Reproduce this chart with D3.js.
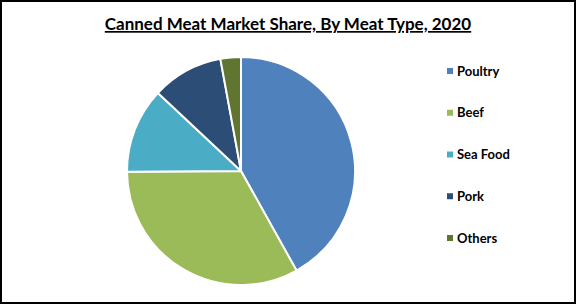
<!DOCTYPE html>
<html>
<head>
<meta charset="utf-8">
<script src="https://cdn.jsdelivr.net/npm/d3@7"></script>
<style>
  html, body { margin: 0; padding: 0; background: #fff; }
  svg { display: block; }
</style>
</head>
<body>
<svg id="chart"></svg>
<script>
// chart data
const categories = ['Poultry', 'Beef', 'Sea Food', 'Pork', 'Others'];
const shares = [41.9, 33.0, 12.1, 10.1, 2.9];
const colors = ['#4f81bd', '#9bbb59', '#4bacc6', '#2c4d75', '#5f7530'];
const title = 'Canned Meat Market Share, By Meat Type, 2020';

const width = 576;
const height = 304;
const font = 'Lato, "Open Sans", sans-serif';

const svg = d3.select('#chart')
  .attr('width', width)
  .attr('height', height);

svg.append('rect')
  .attr('x', 1)
  .attr('y', 1)
  .attr('width', width - 2)
  .attr('height', height - 2)
  .style('fill', '#fff')
  .style('stroke', '#000')
  .style('stroke-width', 2);

svg.append('text')
  .attr('x', width / 2)
  .attr('y', 30)
  .attr('text-anchor', 'middle')
  .style('font-family', font)
  .style('font-weight', 'bold')
  .style('font-size', '17px')
  .style('text-decoration', 'underline')
  .style('fill', '#000')
  .text(title);

const color = d3.scaleOrdinal()
  .domain(categories)
  .range(colors);

const data = categories.map((c, i) => ({name: c, value: shares[i]}));

const pie = d3.pie()
  .value(d => d.value)
  .sort(null);

const arc = d3.arc()
  .innerRadius(0)
  .outerRadius(114);

const g = svg.append('g')
  .attr('transform', 'translate(241, 171)');

g.selectAll('path')
  .data(pie(data))
  .enter().append('path')
  .attr('d', arc)
  .style('fill', d => color(d.data.name))
  .style('stroke', '#fff')
  .style('stroke-width', 2)
  .style('stroke-linejoin', 'round');

// legend
const ly = d3.scalePoint()
  .domain(categories)
  .range([71, 238]);

const legend = svg.append('g');

const item = legend.selectAll('g')
  .data(categories)
  .enter().append('g')
  .attr('transform', d => `translate(447, ${ly(d)})`);

item.append('rect')
  .attr('x', 0)
  .attr('y', -3)
  .attr('width', 6)
  .attr('height', 6)
  .style('fill', d => color(d));

item.append('text')
  .attr('x', 10)
  .attr('y', 0)
  .attr('dy', '0.35em')
  .style('font-family', font)
  .style('font-weight', 'bold')
  .style('font-size', '13px')
  .style('fill', '#000')
  .text(d => d);
</script>
</body>
</html>
